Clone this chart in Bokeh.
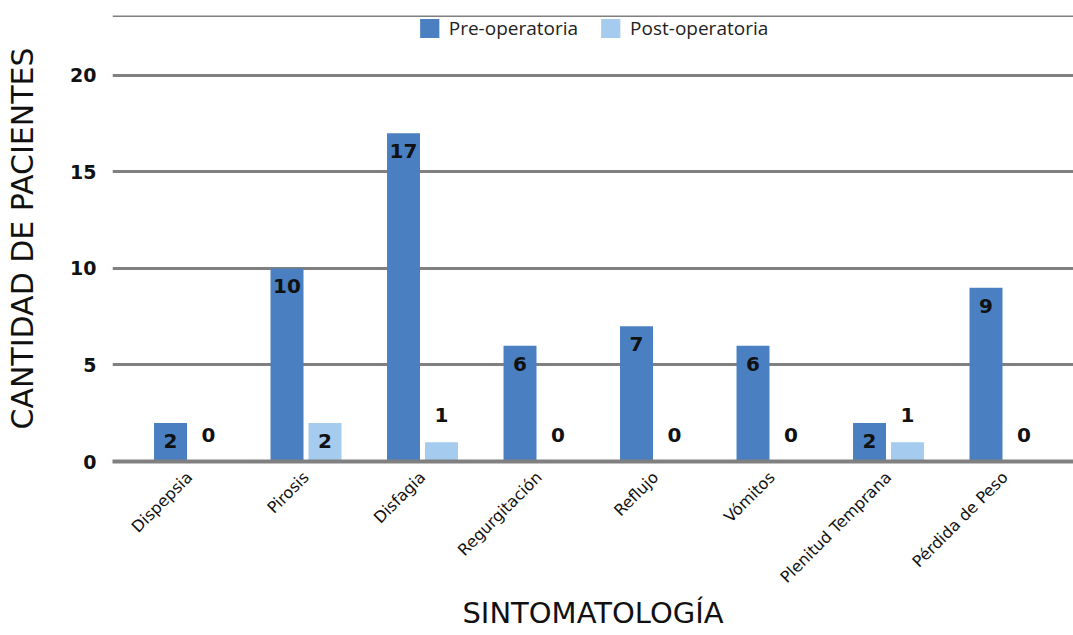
import numpy as np
from bokeh.plotting import figure
from bokeh.models import ColumnDataSource, Range1d, FixedTicker, Span, Legend, LegendItem
from bokeh.core.properties import value
from bokeh.embed import file_html
from bokeh.resources import INLINE

categories = ["Dispepsia", "Pirosis", "Disfagia", "Regurgitación", "Reflujo",
              "Vómitos", "Plenitud Temprana", "Pérdida de Peso"]
pre_op = [2, 10, 17, 6, 7, 6, 2, 9]
post_op = [0, 2, 1, 0, 0, 0, 1, 0]
y_ticks = [0, 5, 10, 15, 20]

PRE_C = "#4a7fc1"
POST_C = "#a5cbef"
GRID_C = "#808080"
FONT = "DejaVu Sans"

xs = np.arange(len(categories))
off = 0.163
bw = 0.283

pre_src = ColumnDataSource(dict(x=xs - off, top=pre_op, lab=[str(v) for v in pre_op]))
post_src = ColumnDataSource(dict(x=xs + off, top=post_op, lab=[str(v) for v in post_op]))
post_in = ColumnDataSource(dict(
    x=[x + off for x, v in zip(xs, post_op) if v >= 2],
    y=[v for v in post_op if v >= 2],
    lab=[str(v) for v in post_op if v >= 2]))
post_out = ColumnDataSource(dict(
    x=[x + off for x, v in zip(xs, post_op) if v < 2],
    y=[v for v in post_op if v < 2],
    lab=[str(v) for v in post_op if v < 2]))

p = figure(width=1073, height=635, output_backend="svg", toolbar_location=None,
           x_range=Range1d(-0.661, 7.588), y_range=Range1d(0, 23.1),
           min_border_left=112, min_border_right=0, min_border_top=15, min_border_bottom=174)
p.outline_line_color = None
p.background_fill_color = "white"
p.border_fill_color = "white"

r_pre = p.vbar(x="x", top="top", width=bw, bottom=0, source=pre_src,
               fill_color=PRE_C, line_color=None)
r_post = p.vbar(x="x", top="top", width=bw, bottom=0, source=post_src,
                fill_color=POST_C, line_color=None)

# value labels
lab_kw = dict(text_align="center", text_font=value(FONT), text_font_style="bold",
              text_font_size="20px", text_color="#111111")
p.text(x="x", y="top", text="lab", source=pre_src, text_baseline="top", y_offset=11, **lab_kw)
p.text(x="x", y="y", text="lab", source=post_in, text_baseline="top", y_offset=11, **lab_kw)
p.text(x="x", y="y", text="lab", source=post_out, text_baseline="bottom", y_offset=-20, **lab_kw)

# grid
p.xgrid.grid_line_color = None
p.ygrid.grid_line_color = GRID_C
p.ygrid.grid_line_width = 3
p.ygrid.ticker = FixedTicker(ticks=y_ticks)
p.add_layout(Span(location=23.1, dimension="width", line_color=GRID_C, line_width=3))

# y axis
p.yaxis.ticker = FixedTicker(ticks=y_ticks)
p.yaxis.axis_line_color = None
p.yaxis.major_tick_line_color = None
p.yaxis.minor_tick_line_color = None
p.yaxis.major_label_text_font = FONT
p.yaxis.major_label_text_font_style = "bold"
p.yaxis.major_label_text_font_size = "19px"
p.yaxis.major_label_text_color = "#111111"
p.yaxis.major_label_standoff = 10
p.yaxis.axis_label = "CANTIDAD DE PACIENTES"
p.yaxis.axis_label_text_font = FONT
p.yaxis.axis_label_text_font_style = "normal"
p.yaxis.axis_label_text_font_size = "30px"
p.yaxis.axis_label_text_color = "#111111"
p.yaxis.axis_label_standoff = 27

# x axis
p.xaxis.ticker = FixedTicker(ticks=list(xs))
p.xaxis.major_label_overrides = {int(i): c for i, c in zip(xs, categories)}
p.xaxis.major_label_orientation = np.pi / 4
p.xaxis.axis_line_color = GRID_C
p.xaxis.axis_line_width = 4
p.xaxis.major_tick_line_color = None
p.xaxis.minor_tick_line_color = None
p.xaxis.major_label_text_font = FONT
p.xaxis.major_label_text_font_size = "16px"
p.xaxis.major_label_text_color = "#111111"
p.xaxis.major_label_standoff = 7
p.xaxis.axis_label = "SINTOMATOLOGÍA"
p.xaxis.axis_label_text_font = FONT
p.xaxis.axis_label_text_font_style = "normal"
p.xaxis.axis_label_text_font_size = "29px"
p.xaxis.axis_label_text_color = "#111111"
p.xaxis.axis_label_standoff = 0

legend = Legend(items=[LegendItem(label="Pre-operatoria", renderers=[r_pre]),
                       LegendItem(label="Post-operatoria", renderers=[r_post])],
                orientation="horizontal", location="top_center")
legend.border_line_color = None
legend.background_fill_alpha = 0
legend.label_text_font = "Open Sans"
legend.label_text_font_size = "19px"
legend.label_text_color = "#222222"
legend.glyph_width = 24
legend.glyph_height = 24
legend.spacing = 20
legend.label_standoff = 8
legend.margin = 0
legend.padding = 1
p.add_layout(legend, "center")

open("out.html", "w").write(file_html(p, INLINE))
